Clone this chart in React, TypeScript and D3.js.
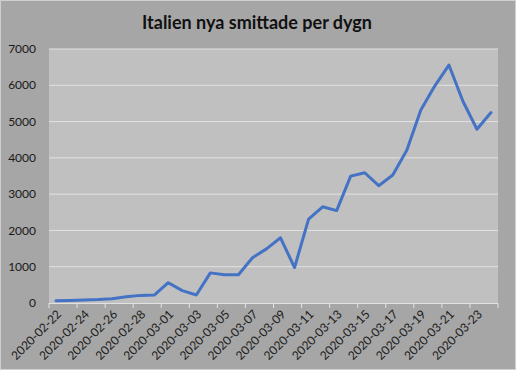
import { useEffect, useRef } from "react";
import * as d3 from "d3";

const dates = [
  "2020-02-22", "2020-02-23", "2020-02-24", "2020-02-25", "2020-02-26", "2020-02-27",
  "2020-02-28", "2020-02-29", "2020-03-01", "2020-03-02", "2020-03-03", "2020-03-04",
  "2020-03-05", "2020-03-06", "2020-03-07", "2020-03-08", "2020-03-09", "2020-03-10",
  "2020-03-11", "2020-03-12", "2020-03-13", "2020-03-14", "2020-03-15", "2020-03-16",
  "2020-03-17", "2020-03-18", "2020-03-19", "2020-03-20", "2020-03-21", "2020-03-22",
  "2020-03-23", "2020-03-24",
];
const newCases = [
  59, 70, 80, 94, 120, 170, 210, 220, 560, 340, 220, 830,
  780, 780, 1247, 1492, 1797, 977, 2313, 2651, 2547, 3497, 3590, 3233,
  3526, 4207, 5322, 5986, 6557, 5560, 4789, 5249,
];
const yTicks = [0, 1000, 2000, 3000, 4000, 5000, 6000, 7000];

const W = 516;
const H = 370;
const FONT = "Lato, 'Open Sans', sans-serif";

export default function App() {
  const svgRef = useRef<SVGSVGElement>(null);

  useEffect(() => {
    const svg = d3.select(svgRef.current);
    svg.selectAll("*").remove();

    const margin = { top: 49, right: 18, bottom: 67, left: 49 };
    const plotW = W - margin.left - margin.right;
    const plotH = H - margin.top - margin.bottom;

    // outer background with light border
    svg.append("rect")
      .attr("x", 0.5).attr("y", 0.5)
      .attr("width", W - 1).attr("height", H - 1)
      .attr("fill", "#a6a6a6")
      .attr("stroke", "#cfcfcf");

    svg.append("text")
      .attr("x", 257).attr("y", 29)
      .attr("text-anchor", "middle")
      .attr("font-family", FONT)
      .attr("font-size", 18)
      .attr("font-weight", "bold")
      .attr("fill", "#111")
      .text("Italien nya smittade per dygn");

    const g = svg.append("g")
      .attr("transform", `translate(${margin.left},${margin.top})`);

    g.append("rect")
      .attr("width", plotW).attr("height", plotH)
      .attr("fill", "#c0c0c0");

    const x = d3.scaleBand<string>().domain(dates).range([0, plotW]).padding(0);
    const y = d3.scaleLinear().domain([0, 7000]).range([plotH, 0]);

    // gridlines
    g.selectAll("line.grid")
      .data(yTicks.filter((t) => t > 0))
      .enter()
      .append("line")
      .attr("class", "grid")
      .attr("x1", 0).attr("x2", plotW)
      .attr("y1", (d) => y(d)).attr("y2", (d) => y(d))
      .attr("stroke", "#e2e2e2")
      .attr("stroke-width", 1);

    // y labels
    g.selectAll("text.ylab")
      .data(yTicks)
      .enter()
      .append("text")
      .attr("class", "ylab")
      .attr("x", -13)
      .attr("y", (d) => y(d))
      .attr("dy", "0.35em")
      .attr("text-anchor", "end")
      .attr("font-family", FONT)
      .attr("font-size", 12)
      .attr("fill", "#1a1a1a")
      .text((d) => String(d));

    // x axis line + ticks between every 2 categories
    g.append("line")
      .attr("x1", 0).attr("x2", plotW)
      .attr("y1", plotH + 0.5).attr("y2", plotH + 0.5)
      .attr("stroke", "#e2e2e2");

    const tickIdx = d3.range(0, dates.length + 1, 2);
    g.selectAll("line.xtick")
      .data(tickIdx)
      .enter()
      .append("line")
      .attr("class", "xtick")
      .attr("x1", (i) => (i < dates.length ? x(dates[i])! : plotW))
      .attr("x2", (i) => (i < dates.length ? x(dates[i])! : plotW))
      .attr("y1", plotH).attr("y2", plotH + 5)
      .attr("stroke", "#e2e2e2");

    // x labels
    g.selectAll("text.xlab")
      .data(dates.filter((_, i) => i % 2 === 0))
      .enter()
      .append("text")
      .attr("class", "xlab")
      .attr("transform", (d) =>
        `translate(${x(d)! + x.bandwidth() / 2 + 3},${plotH + 9}) rotate(-45)`)
      .attr("text-anchor", "end")
      .attr("dy", "0.35em")
      .attr("font-family", FONT)
      .attr("font-size", 12)
      .attr("fill", "#1a1a1a")
      .text((d) => d);

    const line = d3.line<number>()
      .x((_, i) => x(dates[i])! + x.bandwidth() / 2)
      .y((d) => y(d));

    g.append("path")
      .datum(newCases)
      .attr("d", line)
      .attr("fill", "none")
      .attr("stroke", "#4472c4")
      .attr("stroke-width", 3)
      .attr("stroke-linejoin", "round")
      .attr("stroke-linecap", "round");
  }, []);

  return (
    <svg
      ref={svgRef}
      width={W}
      height={H}
      style={{ position: "absolute", left: 0, top: 0 }}
    />
  );
}
